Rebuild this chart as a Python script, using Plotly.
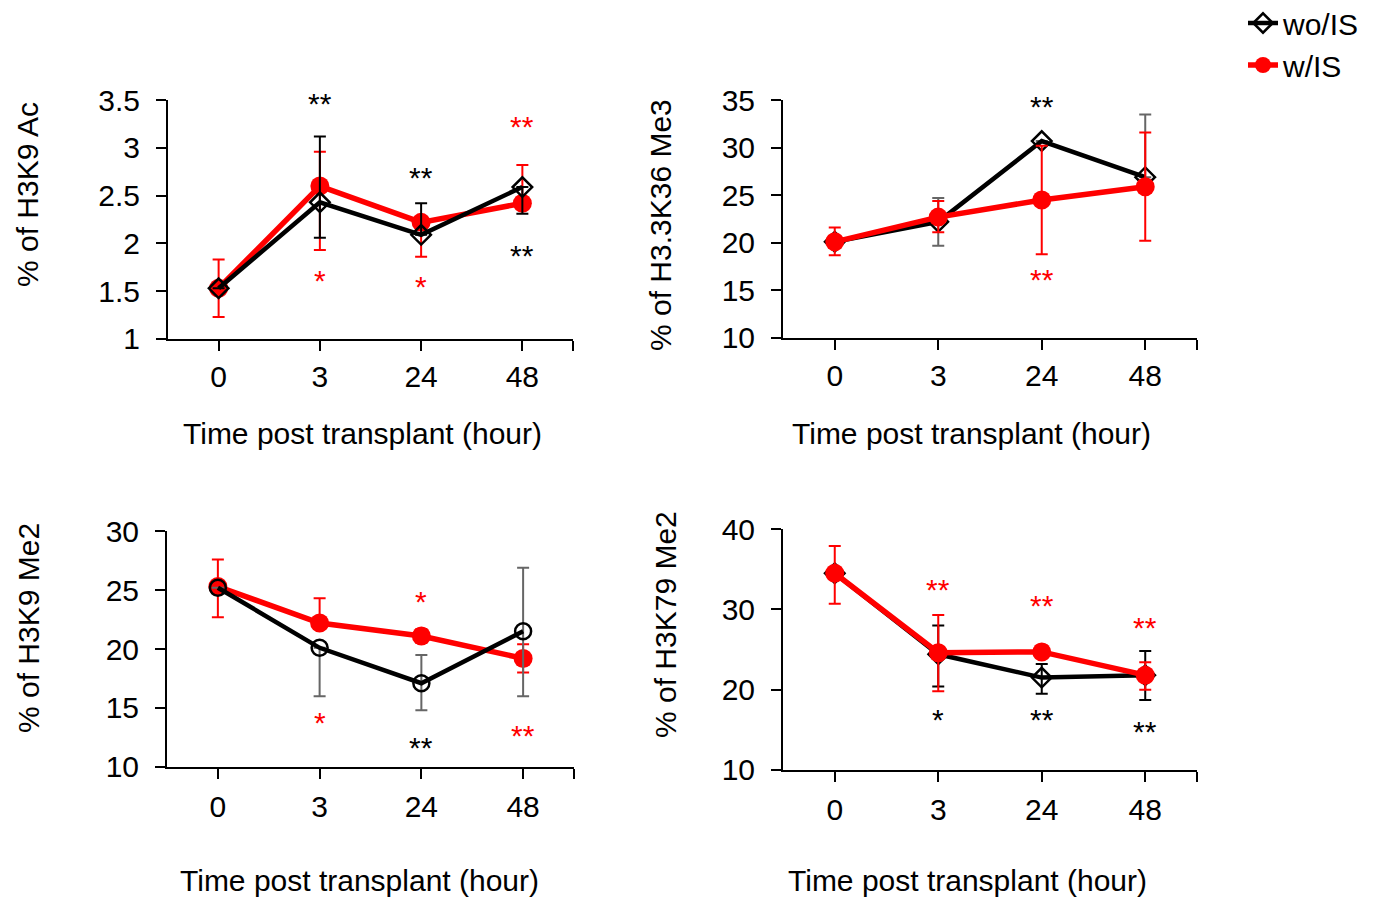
import plotly.graph_objects as go

W, H = 1374, 901
OFF = 8  # page body margin compensation (px)
FONT = "Liberation Sans, Arial, sans-serif"

# ---------------- data ----------------
time_labels = ["0", "3", "24", "48"]
xi = [0, 1, 2, 3]

# Panel A: % of H3K9 Ac
a_wo = [1.53, 2.43, 2.09, 2.59]
a_wo_plus = [0, 0.69, 0.33, 0]
a_wo_minus = [0, 0.37, 0, 0.28]
a_w = [1.53, 2.60, 2.22, 2.42]
a_w_plus = [0.30, 0.36, 0, 0.40]
a_w_minus = [0.30, 0.67, 0.36, 0]

# Panel B: % of H3.3K36 Me3
b_wo = [20.1, 22.2, 30.7, 26.9]
b_wo_plus = [0, 2.5, 0, 6.6]
b_wo_minus = [0, 2.5, 0, 0]
b_w = [20.1, 22.7, 24.5, 25.9]
b_w_plus = [1.5, 1.7, 5.7, 5.7]
b_w_minus = [1.4, 1.6, 5.7, 5.7]

# Panel C: % of H3K9 Me2
c_wo = [25.2, 20.1, 17.1, 21.5]
c_wo_plus = [0, 0, 2.4, 5.4]
c_wo_minus = [0, 4.1, 2.3, 5.5]
c_w = [25.3, 22.2, 21.1, 19.2]
c_w_plus = [2.3, 2.1, 0.6, 1.2]
c_w_minus = [2.6, 0, 0.6, 1.2]

# Panel D: % of H3K79 Me2
d_wo = [34.5, 24.4, 21.5, 21.8]
d_wo_plus = [0, 3.6, 1.7, 3.0]
d_wo_minus = [0, 4.0, 2.0, 3.1]
d_w = [34.5, 24.6, 24.7, 21.8]
d_w_plus = [3.4, 4.7, 0.8, 1.6]
d_w_minus = [3.8, 4.8, 0.8, 1.8]

# significance marks: (time index, y value, text, colour)
a_stars = [(1, 3.50, "**", "black"), (2, 2.72, "**", "black"), (3, 3.26, "**", "red"),
           (3, 1.90, "**", "black"), (1, 1.64, "*", "red"), (2, 1.58, "*", "red")]
b_stars = [(2, 34.6, "**", "black"), (3, 36.3, "*", "black"), (2, 16.5, "**", "red")]
c_stars = [(1, 14.0, "*", "red"), (2, 24.3, "*", "red"), (2, 11.9, "**", "black"),
           (3, 12.9, "**", "red")]
d_stars = [(1, 32.8, "**", "red"), (2, 30.8, "**", "red"), (3, 28.1, "**", "red"),
           (1, 16.6, "*", "black"), (2, 16.6, "**", "black"), (3, 15.1, "**", "black")]

y_titles = ["% of H3K9 Ac", "% of H3.3K36 Me3", "% of H3K9 Me2", "% of H3K79 Me2"]
x_title = "Time post transplant (hour)"

a_ticks = [1, 1.5, 2, 2.5, 3, 3.5]
a_ticktext = ["1", "1.5", "2", "2.5", "3", "3.5"]
b_ticks = [10, 15, 20, 25, 30, 35]
c_ticks = [10, 15, 20, 25, 30]
d_ticks = [10, 20, 30, 40]

# ---------------- layout geometry (pixels in the reference) ----------------
panels = [
    dict(px=(168, 573), py=(100, 339), yr=(1, 3.5), tv=a_ticks, tt=a_ticktext,
         wo=(a_wo, a_wo_plus, a_wo_minus), w=(a_w, a_w_plus, a_w_minus),
         sym="diamond-open", errc="black", red_top=False, stars=a_stars,
         ytitle=(28, 195), xtitle=(362, 433)),
    dict(px=(783, 1197), py=(100, 338), yr=(10, 35), tv=b_ticks, tt=[str(v) for v in b_ticks],
         wo=(b_wo, b_wo_plus, b_wo_minus), w=(b_w, b_w_plus, b_w_minus),
         sym="diamond-open", errc="#666666", red_top=True, stars=b_stars,
         ytitle=(660, 225), xtitle=(971, 433)),
    dict(px=(167, 574), py=(531, 767), yr=(10, 30), tv=c_ticks, tt=[str(v) for v in c_ticks],
         wo=(c_wo, c_wo_plus, c_wo_minus), w=(c_w, c_w_plus, c_w_minus),
         sym="circle-open", errc="#666666", red_top=False, stars=c_stars,
         ytitle=(28, 628), xtitle=(359, 880)),
    dict(px=(783, 1197), py=(529, 770), yr=(10, 40), tv=d_ticks, tt=[str(v) for v in d_ticks],
         wo=(d_wo, d_wo_plus, d_wo_minus), w=(d_w, d_w_plus, d_w_minus),
         sym="diamond-open", errc="black", red_top=True, stars=d_stars,
         ytitle=(665, 625), xtitle=(967, 880)),
]


def fx(px):
    return (px - OFF) / W


def fy(py):
    return 1 - (py - OFF) / H


fig = go.Figure()
annotations = []

for i, p in enumerate(panels):
    n = "" if i == 0 else str(i + 1)
    xa, ya = "x" + n, "y" + n
    show = i == 0

    wo_y, wo_p, wo_m = p["wo"]
    w_y, w_p, w_m = p["w"]
    black = go.Scatter(
        x=xi, y=wo_y, mode="lines+markers", name="wo/IS", showlegend=show,
        legendrank=1, xaxis=xa, yaxis=ya, cliponaxis=False,
        line=dict(color="black", width=4.5),
        marker=dict(symbol=p["sym"], size=15 if p["sym"] != "circle-open" else 16,
                    color="black", line=dict(width=2.5, color="black")),
        error_y=dict(type="data", symmetric=False, array=wo_p, arrayminus=wo_m,
                     color=p["errc"], thickness=2, width=6),
    )
    red = go.Scatter(
        x=xi, y=w_y, mode="lines+markers", name="w/IS", showlegend=show,
        legendrank=2, xaxis=xa, yaxis=ya, cliponaxis=False,
        line=dict(color="#ff0000", width=5.5),
        marker=dict(symbol="circle", size=19, color="#ff0000"),
        error_y=dict(type="data", symmetric=False, array=w_p, arrayminus=w_m,
                     color="#ff0000", thickness=2, width=6),
    )
    if p["red_top"]:
        fig.add_trace(black)
        fig.add_trace(red)
    else:
        fig.add_trace(red)
        fig.add_trace(black)

    x0, x1 = p["px"]
    yt, yb = p["py"]
    axis_common = dict(showline=True, linecolor="black", linewidth=2, ticks="outside",
                       ticklen=10, tickwidth=2, tickcolor="black", showgrid=False,
                       zeroline=False, automargin=False,
                       tickfont=dict(family=FONT, size=30, color="black"))
    fig.layout["xaxis" + n] = dict(
        domain=[fx(x0), fx(x1)], anchor=ya, range=[-0.5, 3.5001],
        tickmode="array", tickvals=[0, 1, 2, 3, 3.5], ticktext=time_labels + [""],
        ticklabelstandoff=0 if i < 2 else 2, **axis_common)
    ylo, yhi = p["yr"]
    pad = (yhi - ylo) * 0.0005
    fig.layout["yaxis" + n] = dict(
        domain=[fy(yb), fy(yt)], anchor=xa, range=[ylo - pad, yhi + pad],
        tickmode="array", tickvals=p["tv"], ticktext=p["tt"],
        ticklabelstandoff=10, **axis_common)

    for (ti, yv, txt, col) in p["stars"]:
        annotations.append(dict(x=ti, y=yv, xref=xa, yref=ya, text=txt, showarrow=False,
                                font=dict(family=FONT, size=30, color=col),
                                xanchor="center", yanchor="middle", yshift=-3))
    tx, ty = p["ytitle"]
    annotations.append(dict(x=fx(tx), y=fy(ty), xref="paper", yref="paper",
                            text=y_titles[i], textangle=-90, showarrow=False,
                            font=dict(family=FONT, size=30, color="black"),
                            xanchor="center", yanchor="middle"))
    tx, ty = p["xtitle"]
    annotations.append(dict(x=fx(tx), y=fy(ty), xref="paper", yref="paper",
                            text=x_title, showarrow=False,
                            font=dict(family=FONT, size=30, color="black"),
                            xanchor="center", yanchor="middle"))

fig.update_layout(
    width=W, height=H, margin=dict(l=0, r=0, t=0, b=0, autoexpand=False),
    paper_bgcolor="white", plot_bgcolor="white",
    font=dict(family=FONT, size=30, color="black"),
    annotations=annotations,
    legend=dict(x=fx(1243), y=fy(-3), xanchor="left", yanchor="top",
                font=dict(family=FONT, size=30, color="black"),
                bgcolor="rgba(0,0,0,0)", tracegroupgap=0, itemwidth=30),
)

fig.write_html("out.html")
